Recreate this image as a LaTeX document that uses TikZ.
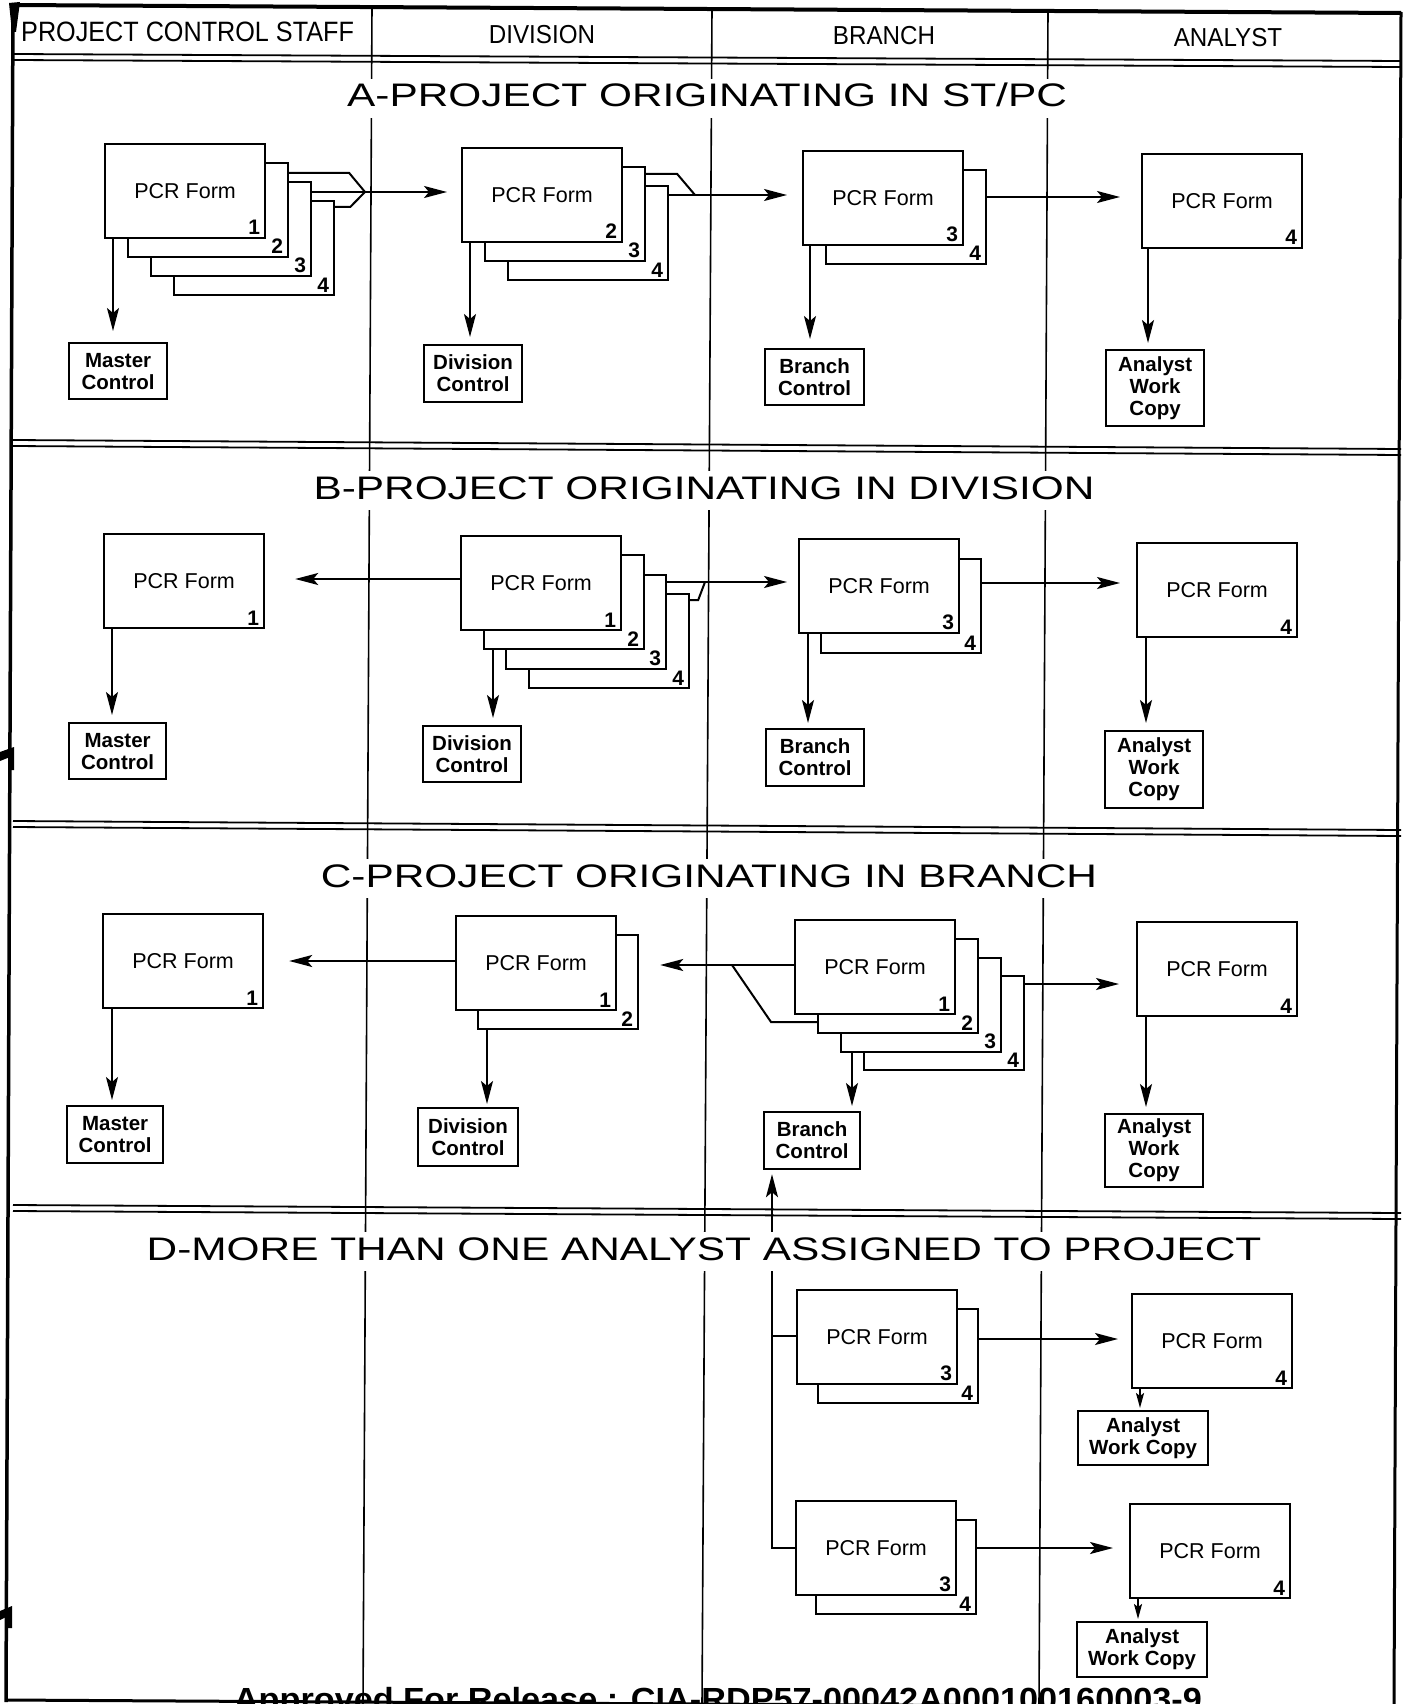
\documentclass[tikz,border=0pt]{standalone}
\usepackage{fontspec}
\setmainfont{Liberation Sans}
\newfontfamily\pcsfont[FakeStretch=0.9]{Liberation Sans}
\newfontfamily\hdrfont[FakeStretch=0.93]{Liberation Sans}
\newfontfamily\ttlfont[FakeStretch=1.3]{Liberation Sans}
\newfontfamily\stampfont[FakeStretch=1.07]{Liberation Sans}
\usetikzlibrary{arrows.meta,calc}

\tikzset{
  rule/.style={line width=1.6pt},
  dbl/.style={line width=1.8pt},
  border/.style={line width=3.5pt},
  sheet/.style={draw, fill=white, line width=2.2pt, minimum width=160pt,
    minimum height=94pt, inner sep=0pt, anchor=north west,
    font=\fontsize{21.5}{24}\selectfont},
  num/.style={anchor=south east, inner sep=0pt,
    font=\bfseries\fontsize{21}{24}\selectfont},
  tag/.style={draw, fill=white, line width=2.2pt, inner sep=0pt,
    anchor=north west, align=center,
    font=\bfseries\fontsize{20.5}{22}\selectfont},
  conn/.style={line width=2pt},
  arr/.style={conn, -{Stealth[length=23pt,width=12pt,inset=5pt]}},
  smallarr/.style={conn, -{Stealth[length=15pt,width=8pt,inset=3pt]}},
  hdr/.style={inner sep=0pt, anchor=base, font=\hdrfont\fontsize{26}{28}\selectfont},
  ttl/.style={fill=white, inner xsep=4pt, inner ysep=5pt, text height=23.3pt,
    text depth=6pt, anchor=base, font=\ttlfont\fontsize{32.6}{36}\selectfont},
}

% one sheet of a form stack: name, x, y (top left corner), copy number
\newcommand\pcrsheet[4]{%
  \node[sheet] (#1) at (#2,#3) {};
  \node[num] (#1n) at ([xshift=-6pt,yshift=4pt]#1.south east) {#4};}
\newcommand\pcrfront[4]{%
  \node[sheet] (#1) at (#2,#3) {PCR Form};
  \node[num] (#1n) at ([xshift=-6pt,yshift=4pt]#1.south east) {#4};}

\begin{document}
\begin{tikzpicture}[x=1pt,y=-1pt]
\useasboundingbox (0,0) rectangle (1408,1704);
\clip (0,0) rectangle (1408,1704);
\fill[white] (0,0) rectangle (1408,1704);

% ---- column rules
\draw[rule] (372,6) -- (363,1704);
\draw[rule] (712,8) -- (702,1704);
\draw[rule] (1048,10) -- (1039,1704);

% ---- double rules between header and sections
\draw[dbl] (13,54) -- (1401,61);
\draw[dbl] (13,60) -- (1401,67);
\draw[dbl] (13,440) -- (1401,449);
\draw[dbl] (13,446) -- (1401,455);
\draw[dbl] (13,821) -- (1401,830);
\draw[dbl] (13,827) -- (1401,836);
\draw[dbl] (13,1205) -- (1401,1213);
\draw[dbl] (13,1211) -- (1401,1219);

% ---- outer frame
\draw[line width=4pt] (12,5) -- (1401,13);
\draw[border] (13,5) -- (6,1702);
\draw[line width=3pt] (1401,12) -- (1394,1704);
\draw[line width=3pt] (6,1700) -- (1394,1708);
\fill (9,3) -- (20,2) -- (16,32) -- (12,32) -- cycle;
\fill (0,752) -- (14,747) -- (14,770) -- (10,770) -- (10,757) -- (0,761) -- cycle;
\fill (0,1611) -- (12,1606) -- (12,1628) -- (8,1628) -- (8,1616) -- (0,1620) -- cycle;

% ---- column headings
\node[hdr, anchor=base west, font=\pcsfont\fontsize{28}{30}\selectfont] (hpcs) at (21,42) {PROJECT CONTROL STAFF};
\node[hdr] (hdiv) at (542,43.5) {DIVISION};
\node[hdr] (hbr) at (884,45) {BRANCH};
\node[hdr] (han) at (1228,46.5) {ANALYST};

% ================= A
\pcrsheet{a1s4}{173}{200}{4}
\pcrsheet{a1s3}{150}{181}{3}
\pcrsheet{a1s2}{127}{162}{2}
\pcrfront{a1s1}{104}{143}{1}
\pcrsheet{a2s4}{507}{185}{4}
\pcrsheet{a2s3}{484}{166}{3}
\pcrfront{a2s2}{461}{147}{2}
\pcrsheet{a3s4}{825}{169}{4}
\pcrfront{a3s3}{802}{150}{3}
\pcrfront{a4s4}{1141}{153}{4}
\node[tag, minimum width=98pt, minimum height=56pt] (a1mc) at (68,342) {Master\\Control};
\node[tag, minimum width=98pt, minimum height=57pt] (a2dc) at (423,344) {Division\\Control};
\node[tag, minimum width=99pt, minimum height=56pt] (a3bc) at (764,348) {Branch\\Control};
\node[tag, minimum width=98pt, minimum height=76pt] (a4aw) at (1105,349) {Analyst\\Work\\Copy};

\coordinate (a1j) at (365,192);
\draw[conn] ([yshift=-11pt]a1s2.north east) -- ++(60,0) -- (a1j);
\draw[conn] ([yshift=-7pt]a1s4.north east) -- ++(15,0) -- (a1j);
\draw[arr, shorten >=14pt] (a1s3.east |- a1j) -- (a2s2.west |- a1j);
\coordinate (a2j) at (695,195);
\draw[conn] ([yshift=-8pt]a2s3.north east) -- ++(31,0) -- (a2j);
\draw[arr, shorten >=15pt] (a2s4.east |- a2j) -- (a3s3.west |- a2j);
\draw[arr, shorten >=21pt] (a3s4.east |- 0,197) -- (a4s4.west |- 0,197);
\draw[arr, shorten >=11pt] (113,0 |- a1s1.south) -- (113,0 |- a1mc.north);
\draw[arr, shorten >=7pt] (470,0 |- a2s2.south) -- (470,0 |- a2dc.north);
\draw[arr, shorten >=9pt] (810,0 |- a3s3.south) -- (810,0 |- a3bc.north);
\draw[arr, shorten >=6pt] (1148,0 |- a4s4.south) -- (1148,0 |- a4aw.north);

% ================= B
\pcrfront{b1s1}{103}{533}{1}
\pcrsheet{b2s4}{528}{593}{4}
\pcrsheet{b2s3}{505}{574}{3}
\pcrsheet{b2s2}{483}{554}{2}
\pcrfront{b2s1}{460}{535}{1}
\pcrsheet{b3s4}{820}{558}{4}
\pcrfront{b3s3}{798}{538}{3}
\pcrfront{b4s4}{1136}{542}{4}
\node[tag, minimum width=97pt, minimum height=56pt] (b1mc) at (68,722) {Master\\Control};
\node[tag, minimum width=98pt, minimum height=56pt] (b2dc) at (422,725) {Division\\Control};
\node[tag, minimum width=98pt, minimum height=57pt] (b3bc) at (765,728) {Branch\\Control};
\node[tag, minimum width=98pt, minimum height=77pt] (b4aw) at (1104,730) {Analyst\\Work\\Copy};

\draw[arr, shorten >=30pt] (b2s1.west |- 0,579) -- (b1s1.east |- 0,579);
\coordinate (b2j) at (705,582);
\draw[arr, shorten >=11pt] (b2s3.east |- b2j) -- (b3s3.west |- b2j);
\draw[conn] ([yshift=-7pt]b2s4.north east) -- ++(8,0) -- (b2j);
\draw[arr, shorten >=16pt] (b3s4.east |- 0,583) -- (b4s4.west |- 0,583);
\draw[arr, shorten >=7pt] (112,0 |- b1s1.south) -- (112,0 |- b1mc.north);
\draw[arr, shorten >=7pt] (493,0 |- b2s2.south) -- (493,0 |- b2dc.north);
\draw[arr, shorten >=5pt] (808,0 |- b3s3.south) -- (808,0 |- b3bc.north);
\draw[arr, shorten >=7pt] (1146,0 |- b4s4.south) -- (1146,0 |- b4aw.north);

% ================= C
\pcrfront{c1s1}{102}{913}{1}
\pcrsheet{c2s2}{477}{934}{2}
\pcrfront{c2s1}{455}{915}{1}
\pcrsheet{c3s4}{863}{975}{4}
\pcrsheet{c3s3}{840}{957}{3}
\pcrsheet{c3s2}{817}{938}{2}
\pcrfront{c3s1}{794}{919}{1}
\pcrfront{c4s4}{1136}{921}{4}
\node[tag, minimum width=96pt, minimum height=57pt] (c1mc) at (66,1105) {Master\\Control};
\node[tag, minimum width=100pt, minimum height=58pt] (c2dc) at (417,1107) {Division\\Control};
\node[tag, minimum width=96pt, minimum height=57pt] (c3bc) at (763,1111) {Branch\\Control};
\node[tag, minimum width=98pt, minimum height=73pt] (c4aw) at (1104,1113) {Analyst\\Work\\Copy};

\draw[arr, shorten >=25pt] (c2s1.west |- 0,961) -- (c1s1.east |- 0,961);
\coordinate (c3j) at (732,965);
\draw[arr, shorten >=21pt] (c3s1.west |- c3j) -- (c2s2.east |- c3j);
\draw[conn] (c3s2.west |- 0,1022) -- ++(-46,0) -- (c3j);
\draw[arr, shorten >=17pt] (c3s4.east |- 0,984) -- (c4s4.west |- 0,984);
\draw[arr, shorten >=5pt] (112,0 |- c1s1.south) -- (112,0 |- c1mc.north);
\draw[arr, shorten >=3pt] (487,0 |- c2s2.south) -- (487,0 |- c2dc.north);
\draw[arr, shorten >=5pt] (852,0 |- c3s3.south) -- (852,0 |- c3bc.north);
\draw[arr, shorten >=6pt] (1146,0 |- c4s4.south) -- (1146,0 |- c4aw.north);

% ================= D
\pcrsheet{d1s4}{817}{1308}{4}
\pcrfront{d1s3}{796}{1289}{3}
\pcrfront{d1a}{1131}{1293}{4}
\pcrsheet{d2s4}{815}{1519}{4}
\pcrfront{d2s3}{795}{1500}{3}
\pcrfront{d2a}{1129}{1503}{4}
\node[tag, minimum width=130pt, minimum height=54pt] (d1aw) at (1077,1410) {Analyst\\Work Copy};
\node[tag, minimum width=130pt, minimum height=55pt] (d2aw) at (1076,1621) {Analyst\\Work Copy};

\coordinate (dsp) at (772,1548);
\draw[arr, shorten >=4pt] (d2s3.west |- dsp) -- (dsp) -- (dsp |- c3bc.south);
\draw[conn] (dsp |- 0,1336) -- (d1s3.west |- 0,1336);
\draw[arr, shorten >=13pt] (d1s4.east |- 0,1339) -- (d1a.west |- 0,1339);
\draw[arr, shorten >=16pt] (d2s4.east |- dsp) -- (d2a.west |- dsp);
\draw[smallarr, shorten >=2pt] (1140,0 |- d1a.south) -- (1140,0 |- d1aw.north);
\draw[smallarr, shorten >=2pt] (1138,0 |- d2a.south) -- (1138,0 |- d2aw.north);

% ---- section titles (white ground breaks the rules behind them)
\node[ttl] (ta) at (707,107) {A-PROJECT ORIGINATING IN ST/PC};
\node[ttl] (tb) at (704,499) {B-PROJECT ORIGINATING IN DIVISION};
\node[ttl] (tc) at (709,887) {C-PROJECT ORIGINATING IN BRANCH};
\node[ttl] (td) at (704,1260) {D-MORE THAN ONE ANALYST ASSIGNED TO PROJECT};

% ---- release stamp along the foot, running off the lower edge
\node[anchor=base, inner sep=0pt, font=\stampfont\bfseries\fontsize{32}{36}\selectfont] (stamp) at (718,1710) {Approved For Release : CIA-RDP57-00042A000100160003-9};
\end{tikzpicture}
\end{document}
